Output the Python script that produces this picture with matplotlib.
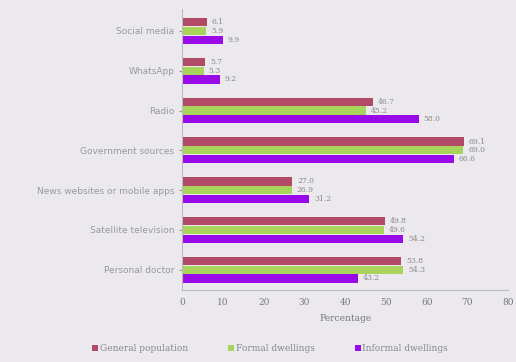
import numpy as np
from matplotlib import pyplot as plt

categories = ["Social media", "WhatsApp", "Radio", "Government sources",
              "News websites or mobile apps", "Satellite television", "Personal doctor"]
general = [6.1, 5.7, 46.7, 69.1, 27.0, 49.8, 53.8]
formal = [5.9, 5.3, 45.2, 69.0, 26.9, 49.6, 54.3]
informal = [9.9, 9.2, 58.0, 66.6, 31.2, 54.2, 43.2]
series_names = ["General population", "Formal dwellings", "Informal dwellings"]
colors = ["#b14a66", "#a9d45c", "#9a0ae8"]

bg = "#ebe9ee"
fig = plt.figure(figsize=(5.16, 3.62), dpi=100, facecolor=bg)
ax = fig.add_axes([0.353, 0.20, 0.632, 0.775], facecolor=bg)

y = np.arange(len(categories))
h = 0.22
for i, (vals, name, c) in enumerate(zip([general, formal, informal], series_names, colors)):
    pos = y + (i - 1) * h
    ax.barh(pos, vals, height=h * 0.95, color=c, label=name)
    for p, v in zip(pos, vals):
        ax.text(v + 1.2, p, f"{v:.1f}", va="center", ha="left", fontsize=5.5,
                color="#888888", family="DejaVu Serif")

ax.set_yticks(y)
ax.set_yticklabels(categories, fontsize=6.5, color="#666666")
ax.set_ylim(len(categories) - 0.5, -0.55)
ax.set_xlim(0, 80)
ax.set_xticks(range(0, 81, 10))
ax.tick_params(axis="x", labelsize=6.5, colors="#777777", length=0, pad=6)
ax.tick_params(axis="y", length=2, colors="#999999")
for lbl in ax.get_xticklabels():
    lbl.set_family("DejaVu Serif")
for s in ["top", "right"]:
    ax.spines[s].set_visible(False)
for s in ["left", "bottom"]:
    ax.spines[s].set_color("#bbbbbb")
ax.set_xlabel("Percentage", fontsize=6.5, color="#777777", family="DejaVu Serif", labelpad=5)

ax.legend(loc="upper center", bbox_to_anchor=(0.27, -0.165), ncol=3, frameon=False,
          handlelength=0.6, handleheight=0.6, columnspacing=4.5,
          handletextpad=0.2, labelcolor="#888888", prop={"family": "DejaVu Serif", "size": 6.5})

plt.savefig("out.png", dpi=100, facecolor=bg)
